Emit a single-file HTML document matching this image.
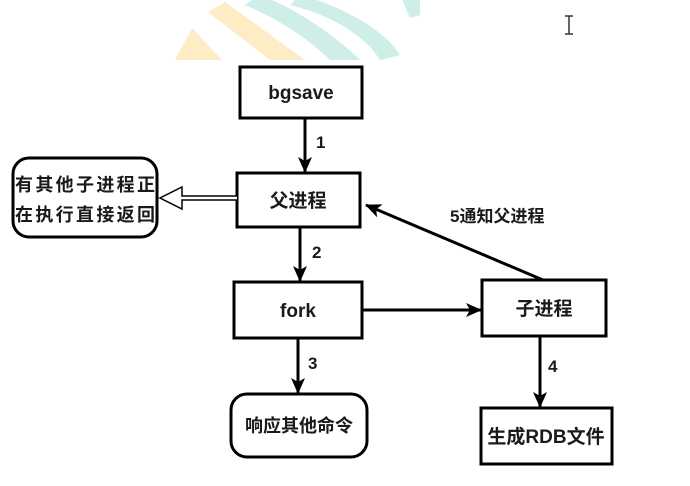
<!DOCTYPE html>
<html><head><meta charset="utf-8"><style>
body{margin:0;background:#fff;}
svg{display:block}
text{font-family:"Liberation Sans","Noto Sans CJK SC",sans-serif;font-weight:bold;fill:#1a1a1a}
</style></head><body>
<svg width="690" height="486" viewBox="0 0 690 486">
<defs>
<clipPath id="c"><rect x="0" y="0" width="690" height="60"/></clipPath>
<marker id="a" markerWidth="16" markerHeight="14" refX="15" refY="7" orient="auto" markerUnits="userSpaceOnUse"><path d="M0,0 L16,7 L0,14 L4,7 Z" fill="#000"/></marker>
</defs>
<g clip-path="url(#c)">
<polygon points="175,60 192,28 222,60" fill="#fdecc4"/>
<polygon points="208,12 225,2 305,60 270,60" fill="#fdecc4"/>
<path d="M260,-5 C300,10 340,40 360,60 L330,60 C310,40 280,20 245,5 Z" fill="#cfeee8"/>
<path d="M300,-5 C340,5 385,30 400,55 L380,60 C365,35 330,15 290,5 Z" fill="#cfeee8"/>
<polygon points="400,-5 420,-5 420,15 410,18" fill="#cfeee8"/>
</g>
<g stroke="#333" stroke-width="1.5"><line x1="569" y1="16" x2="569" y2="34"/><line x1="565" y1="16" x2="573" y2="16"/><line x1="565" y1="34" x2="573" y2="34"/></g>
<g fill="#fff" stroke="#000" stroke-width="3">
<rect x="240" y="67" width="122" height="51"/>
<rect x="237" y="173" width="123" height="54"/>
<rect x="234" y="282" width="128" height="56"/>
<rect x="482" y="280" width="124" height="56"/>
<rect x="481" y="408" width="131" height="56"/>
<rect x="13" y="158" width="144" height="79" rx="16"/>
<rect x="231" y="394" width="136" height="63" rx="16"/>
</g>
<g stroke="#000" stroke-width="3" fill="none">
<line x1="305" y1="118" x2="305" y2="172" marker-end="url(#a)"/>
<line x1="300" y1="227" x2="300" y2="281" marker-end="url(#a)"/>
<line x1="298" y1="338" x2="298" y2="393" marker-end="url(#a)"/>
<line x1="540" y1="336" x2="540" y2="407" marker-end="url(#a)"/>
<line x1="362" y1="310" x2="481" y2="310" marker-end="url(#a)"/>
<line x1="543" y1="280" x2="366" y2="205" marker-end="url(#a)"/>
</g>
<path d="M237,196 L182,196 L182,187 L160,198 L182,209 L182,200 L237,200" fill="#fff" stroke="#000" stroke-width="1.5"/>
<text x="301" y="99" font-size="19" text-anchor="middle">bgsave</text>
<text x="298" y="207" font-size="19" text-anchor="middle">父进程</text>
<text x="298" y="317" font-size="19" text-anchor="middle">fork</text>
<text x="544" y="315" font-size="19" text-anchor="middle">子进程</text>
<text x="546" y="443" font-size="19" text-anchor="middle">生成RDB文件</text>
<text x="299" y="432" font-size="18" text-anchor="middle">响应其他命令</text>
<text x="85" y="191" font-size="18" text-anchor="middle" textLength="140">有其他子进程正</text>
<text x="85" y="221" font-size="18" text-anchor="middle" textLength="140">在执行直接返回</text>
<text x="316" y="148" font-size="17">1</text>
<text x="312" y="258" font-size="17">2</text>
<text x="308" y="369" font-size="17">3</text>
<text x="548" y="372" font-size="17">4</text>
<text x="450" y="222" font-size="17">5通知父进程</text>
</svg>
</body></html>
